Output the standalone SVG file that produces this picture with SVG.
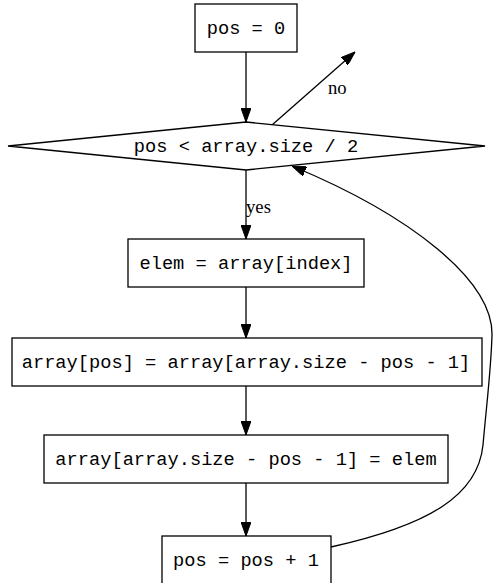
<svg xmlns="http://www.w3.org/2000/svg" width="496" height="583" viewBox="0 0 496 583">
  <style>
    .box { fill: #ffffff; stroke: #000000; stroke-width: 1.3; }
    .code { font-family: "Liberation Mono", "Courier New", monospace; font-size: 18.7px; fill: #000000; text-anchor: middle; }
    .lbl { font-family: "Liberation Serif", "Times New Roman", serif; font-size: 18.7px; fill: #000000; }
    .edge { fill: none; stroke: #000000; stroke-width: 1.3; }
  </style>
  <defs>
    <marker id="arrow" viewBox="0 0 14 10" refX="14" refY="5" markerWidth="14" markerHeight="10" markerUnits="userSpaceOnUse" orient="auto">
      <path d="M0,0 L14,5 L0,10 Z" fill="#000000" stroke="#000000" stroke-width="1"/>
    </marker>
  </defs>
  <rect width="496" height="583" fill="#ffffff"/>

  <g id="edges">
    <path class="edge" d="M246,52 L246,122" marker-end="url(#arrow)"/>
    <path class="edge" d="M272,125 L355,52" marker-end="url(#arrow)"/>
    <path class="edge" d="M246,170 L246,239" marker-end="url(#arrow)"/>
    <path class="edge" d="M246,287 L246,338" marker-end="url(#arrow)"/>
    <path class="edge" d="M246,386 L246,435" marker-end="url(#arrow)"/>
    <path class="edge" d="M246,483 L246,536" marker-end="url(#arrow)"/>
    <!-- loop back from the increment step to the condition -->
    <path class="edge" d="M331,547 C430,525 478,495 483,445 C487,400 491,370 492,335 C493,280 410,215 292,166" marker-end="url(#arrow)"/>
    <text class="lbl" x="328" y="94">no</text>
    <text class="lbl" x="246" y="213">yes</text>
  </g>

  <g id="init">
    <rect class="box" x="195" y="4" width="102" height="48"/>
    <text class="code" x="246" y="34">pos = 0</text>
  </g>

  <g id="cond">
    <polygon class="box" points="8,146 246,122 485,146 246,170"/>
    <text class="code" x="246" y="152">pos &lt; array.size / 2</text>
  </g>

  <g id="save">
    <rect class="box" x="128" y="239" width="236" height="48"/>
    <text class="code" x="246" y="269">elem = array[index]</text>
  </g>

  <g id="swap1">
    <rect class="box" x="12" y="338" width="470" height="48"/>
    <text class="code" x="246" y="368">array[pos] = array[array.size - pos - 1]</text>
  </g>

  <g id="swap2">
    <rect class="box" x="44" y="435" width="404" height="48"/>
    <text class="code" x="246" y="465">array[array.size - pos - 1] = elem</text>
  </g>

  <g id="step">
    <rect class="box" x="162" y="536" width="169" height="48"/>
    <text class="code" x="246" y="566">pos = pos + 1</text>
  </g>
</svg>
